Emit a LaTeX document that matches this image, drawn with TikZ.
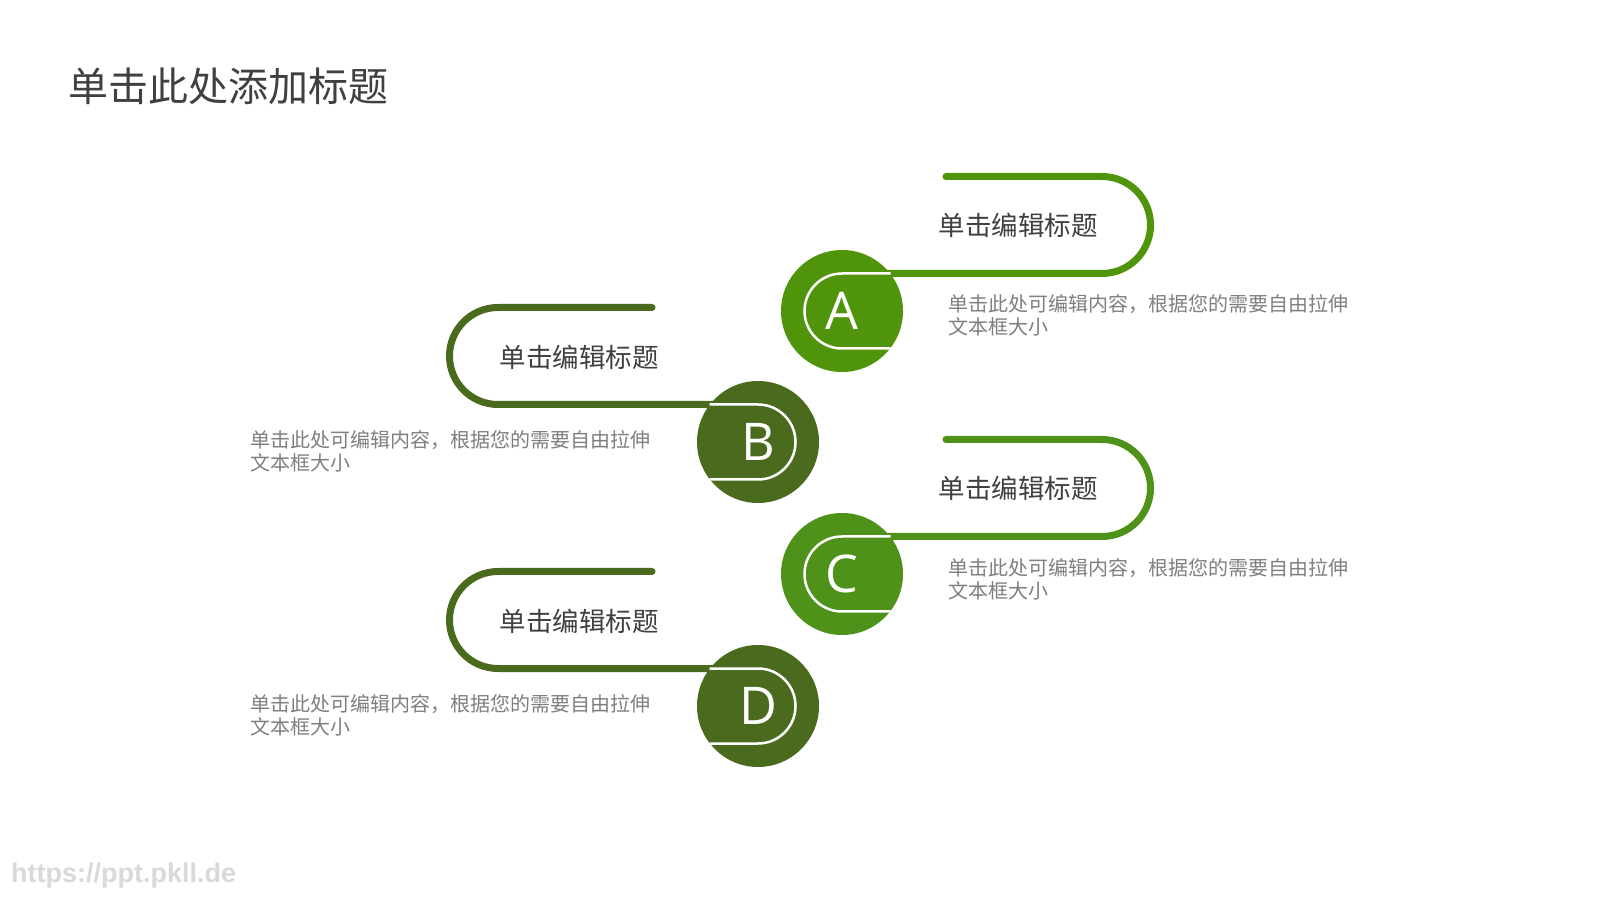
\documentclass[tikz,border=0pt]{standalone}
\usepackage{fontspec}
\setmainfont{Noto Sans CJK SC}
\newfontfamily\lettfont{Open Sans}
\newfontfamily\urlfont{Liberation Sans}
\usetikzlibrary{backgrounds,calc,positioning}
\definecolor{leafA}{RGB}{80,148,12}
\definecolor{leafC}{RGB}{78,146,26}
\definecolor{oliveB}{RGB}{74,106,30}
\definecolor{txtdark}{RGB}{64,64,64}
\definecolor{txtgray}{RGB}{127,127,127}
\tikzstyle{disc}=[circle, minimum size=122pt, inner sep=0pt, text=white, font=\lettfont\fontsize{52}{52}\selectfont]
\tikzstyle{track}=[line width=7pt, line cap=round]
\tikzstyle{ring}=[white, line width=2.5pt]
\tikzstyle{headtxt}=[text=txtdark, inner sep=0pt, font=\fontsize{26.5}{30}\selectfont]
\tikzstyle{bodytxt}=[text=txtgray, align=left, inner sep=0pt, anchor=west, font=\fontsize{20}{23}\selectfont]

\begin{document}
\begin{tikzpicture}[x=1pt, y=1pt]
      \useasboundingbox (0,0) rectangle (1600,900);
      % title and mark
      \node[anchor=west, inner sep=0pt, text=txtdark, font=\fontsize{40}{44}\selectfont] (title) at (68,814) {单击此处添加标题};
      \node[anchor=west, inner sep=0pt, text=black!15, font=\urlfont\bfseries\fontsize{27}{30}\selectfont] (mark) at (11,24) {https://ppt.pkll.de};
      %
      \node[disc, fill=leafA] (a) at (842,589) {A};
      \node[disc, fill=oliveB] (b) at (758,458) {B};
      \node[disc, fill=leafC] (c) at (842,326) {C};
      \node[disc, fill=oliveB] (d) at (758,194) {D};
      %
      \node[headtxt] (ta) at ($(a)+(176,86)$) {单击编辑标题};
      \node[headtxt] (tb) at ($(b)+(-179,85)$) {单击编辑标题};
      \node[headtxt] (tc) at ($(c)+(176,86)$) {单击编辑标题};
      \node[headtxt] (td) at ($(d)+(-179,85)$) {单击编辑标题};
      %
      \node[bodytxt] (da) at (948,585) {单击此处可编辑内容，根据您的需要自由拉伸\\文本框大小};
      \node[bodytxt] (db) at (250,449) {单击此处可编辑内容，根据您的需要自由拉伸\\文本框大小};
      \node[bodytxt] (dc) at (948,321) {单击此处可编辑内容，根据您的需要自由拉伸\\文本框大小};
      \node[bodytxt] (dd) at (250,185) {单击此处可编辑内容，根据您的需要自由拉伸\\文本框大小};
      %
      \foreach \n in {a,c} {
        \draw[ring] ($(\n)+(48.5,37.5)$) -- ($(\n)+(0,37.5)$) arc[start angle=90, end angle=270, radius=37.5pt] -- ($(\n)+(48.5,-37.5)$);
      }
      \foreach \n in {b,d} {
        \draw[ring] ($(\n)+(-48.5,37.5)$) -- ($(\n)+(0,37.5)$) arc[start angle=90, end angle=-90, radius=37.5pt] -- ($(\n)+(-48.5,-37.5)$);
      }
      %
      \begin{pgfonlayer}{background}
        \fill[white] (0,0) rectangle (1600,900);
        \draw[track, leafA] ($(a)+(104,134.5)$) -- ($(a)+(260,134.5)$) arc[start angle=90, end angle=-90, radius=48.5pt] -- ($(a)+(0,37.5)$);
        \draw[track, leafC] ($(c)+(104,134.5)$) -- ($(c)+(260,134.5)$) arc[start angle=90, end angle=-90, radius=48.5pt] -- ($(c)+(0,37.5)$);
        \draw[track, oliveB] ($(b)+(-106,134.5)$) -- ($(b)+(-260,134.5)$) arc[start angle=90, end angle=270, radius=48.5pt] -- ($(b)+(0,37.5)$);
        \draw[track, oliveB] ($(d)+(-106,134.5)$) -- ($(d)+(-260,134.5)$) arc[start angle=90, end angle=270, radius=48.5pt] -- ($(d)+(0,37.5)$);
      \end{pgfonlayer}
\end{tikzpicture}
\end{document}
